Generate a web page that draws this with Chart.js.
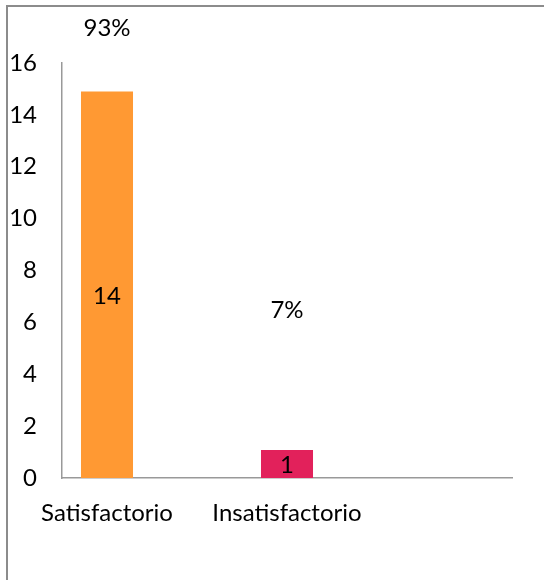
<!DOCTYPE html>
<html>
<head>
<meta charset="utf-8">
<script src="https://cdn.jsdelivr.net/npm/chart.js@4/dist/chart.umd.min.js"></script>
<style>
  html, body { margin: 0; padding: 0; background: #ffffff; overflow: hidden; }
  canvas { display: block; }
</style>
</head>
<body>
<canvas id="c" width="544" height="580"></canvas>
<script>
// Category slots (the chart leaves empty slots between/after the bars)
const categories = ["Satisfactorio", "", "Insatisfactorio", "", ""];
// Bar heights as drawn
const barValues = [14.9, null, 1.08, null, null];
// Data label values shown inside the bars
const countLabels = [14, null, 1, null, null];
// Percentage labels
const percentLabels = ["93%", null, "7%", null, null];
// Y-axis tick values
const yTicks = [0, 2, 4, 6, 8, 10, 12, 14, 16];

const barColors = ["#FF9933", null, "#E2215B", null, null];
const percentAnchors = [17.35, null, 6.45, null, null];
const FONT = "Lato, 'Open Sans', sans-serif";

const framePlugin = {
  id: 'frame',
  beforeDraw(chart) {
    const ctx = chart.ctx;
    ctx.save();
    ctx.strokeStyle = '#8c8c8c';
    ctx.lineWidth = 2;
    ctx.beginPath();
    ctx.moveTo(7, chart.height + 5);
    ctx.lineTo(7, 6);
    ctx.lineTo(chart.width + 5, 6);
    ctx.stroke();
    ctx.restore();
  }
};

const labelPlugin = {
  id: 'labels',
  afterDatasetsDraw(chart) {
    const ctx = chart.ctx;
    const meta = chart.getDatasetMeta(0);
    const y = chart.scales.y;
    ctx.save();
    ctx.font = "24px " + FONT;
    ctx.fillStyle = "#000000";
    ctx.textAlign = "center";
    ctx.textBaseline = "middle";
    meta.data.forEach((bar, i) => {
      if (countLabels[i] !== null) {
        ctx.fillText(String(countLabels[i]), bar.x, y.getPixelForValue(countLabels[i] / 2));
      }
      if (percentLabels[i] !== null) {
        ctx.fillText(percentLabels[i], bar.x, y.getPixelForValue(percentAnchors[i]));
      }
    });
    ctx.restore();
  }
};

new Chart(document.getElementById('c'), {
  type: 'bar',
  data: {
    labels: categories,
    datasets: [{
      data: barValues,
      backgroundColor: barColors,
      borderWidth: 0,
      barPercentage: 0.578,
      categoryPercentage: 1.0
    }]
  },
  options: {
    responsive: false,
    animation: false,
    events: [],
    layout: { padding: { left: 0, right: 32, top: 63, bottom: 0 } },
    plugins: { legend: { display: false }, tooltip: { enabled: false } },
    scales: {
      x: {
        grid: { display: false, drawTicks: false },
        border: { display: true, color: '#999999', width: 1.5 },
        ticks: { font: { family: FONT, size: 24 }, color: '#000000', padding: 21, maxRotation: 0, autoSkip: false },
        afterFit(scale) { scale.height = 102; }
      },
      y: {
        min: 0, max: 16,
        afterBuildTicks(scale) { scale.ticks = yTicks.map(v => ({ value: v })); },
        grid: { display: false, drawTicks: false },
        border: { display: true, color: '#999999', width: 1.5 },
        ticks: { font: { family: FONT, size: 24 }, color: '#000000', padding: 25 },
        afterFit(scale) { scale.width = 62; }
      }
    }
  },
  plugins: [framePlugin, labelPlugin]
});
</script>
</body>
</html>
